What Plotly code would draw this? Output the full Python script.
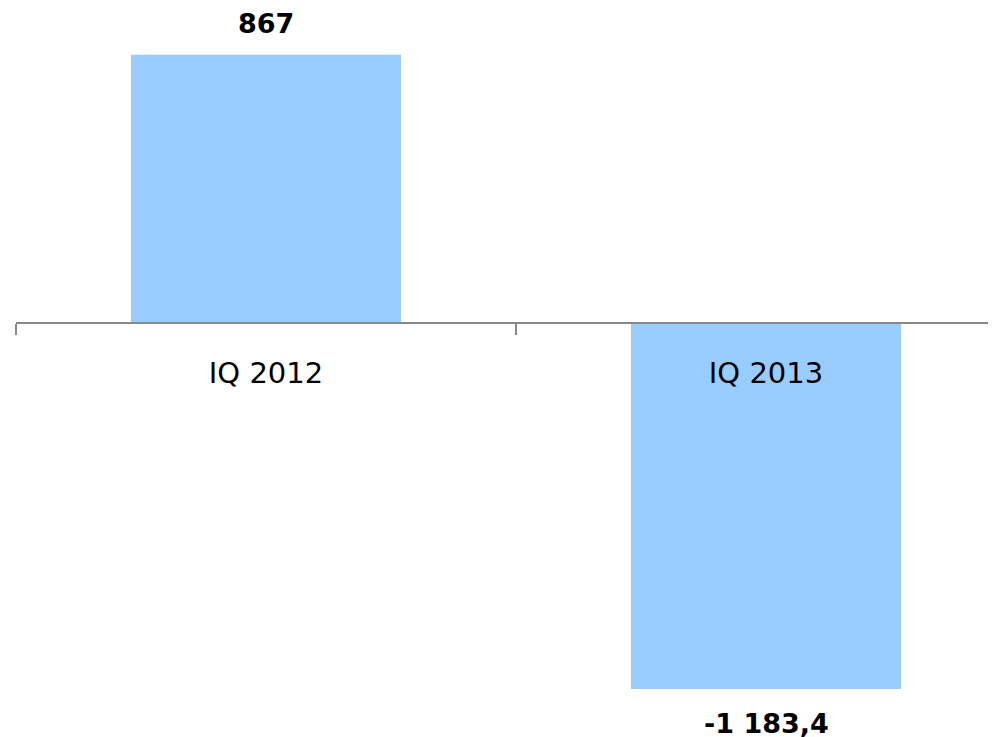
import plotly.graph_objects as go

categories = ["IQ 2012", "IQ 2013"]
values = [867, -1183.4]


def fmt(v):
    s = f"{abs(v):,.1f}" if v != int(v) else f"{abs(int(v)):,}"
    s = s.replace(",", " ").replace(".", ",")
    return ("-" if v < 0 else "") + s


# page body has an 8px margin; the value range is chosen so zero sits at page y=323
W, H = 1004, 737
y_top, y_bot = 1018, -1364
zero_frac = (0 - y_bot) / (y_top - y_bot)

fig = go.Figure()
fig.add_trace(go.Bar(
    x=categories, y=values, width=0.54,
    marker=dict(color="#99CCFF", line=dict(width=0)),
    hoverinfo="skip",
))

for c, v in zip(categories, values):
    fig.add_annotation(
        x=c, y=v, text=f"<b>{fmt(v)}</b>", showarrow=False,
        yanchor="middle", yshift=31 if v >= 0 else -34,
        font=dict(family="DejaVu Sans", size=27, color="#000000"),
    )

fig.update_layout(
    width=W, height=H,
    margin=dict(l=8, r=8, t=0, b=0, autoexpand=False),
    paper_bgcolor="white", plot_bgcolor="white",
    showlegend=False,
    xaxis=dict(
        type="category", range=[-0.5, 1.476],
        anchor="free", position=zero_frac,
        showline=True, linecolor="#888888", linewidth=2,
        ticks="outside", tickson="boundaries", ticklen=11,
        tickcolor="#888888", tickwidth=2,
        showgrid=False, zeroline=False,
        tickfont=dict(family="DejaVu Sans", size=29, color="#000000"),
        ticklabelstandoff=24,
    ),
    yaxis=dict(
        range=[y_bot, y_top], visible=False, showgrid=False, zeroline=False,
    ),
)

fig.write_html("out.html")
